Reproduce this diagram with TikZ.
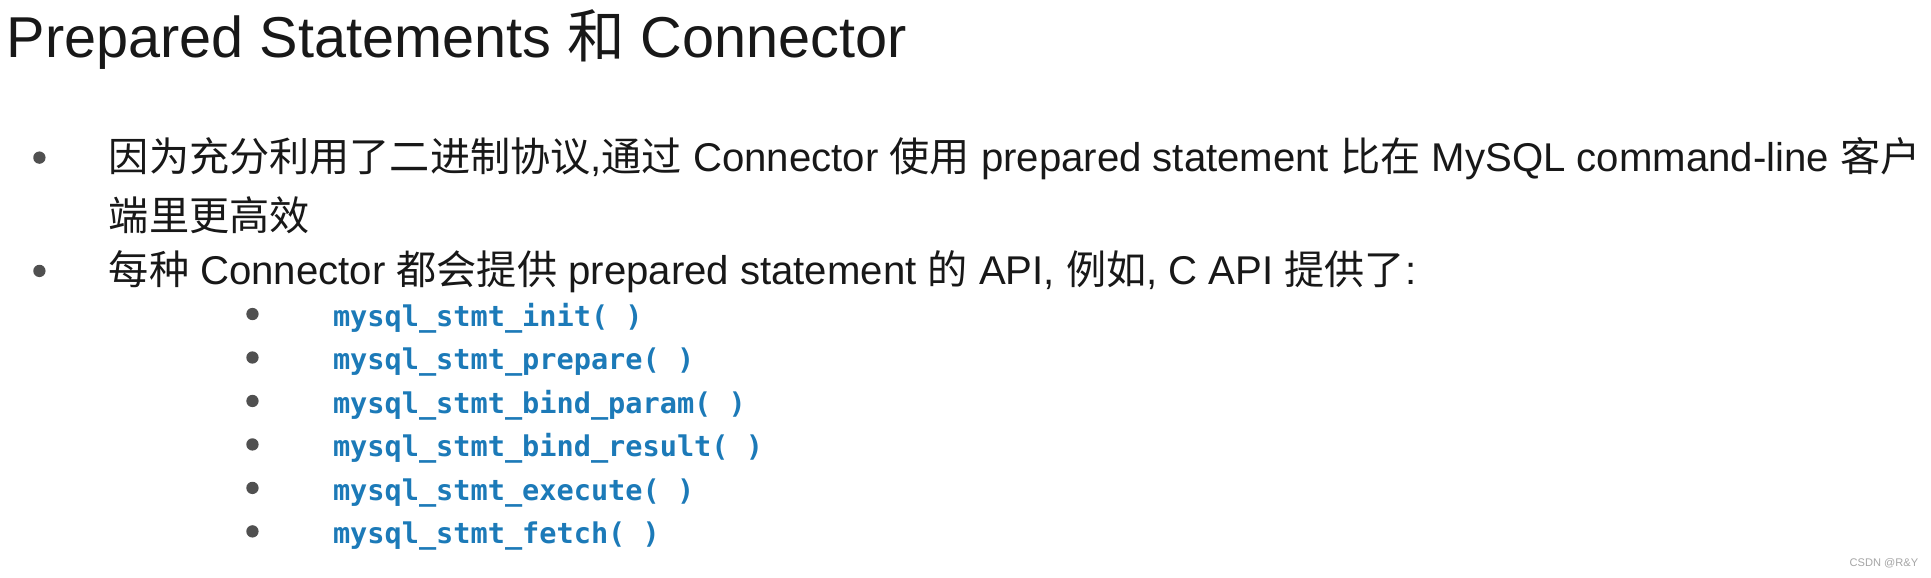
\documentclass[tikz,border=0pt]{standalone}
\usepackage{fontspec}
\setmainfont{Liberation Sans}
\newfontfamily\zhfont{Noto Sans CJK SC}
\newfontfamily\codefont{DejaVu Sans Mono}
\newcommand{\zh}[1]{{\zhfont #1}}
\definecolor{codeblue}{RGB}{28,122,184}
\definecolor{dotgray}{RGB}{80,80,80}
\definecolor{ink}{RGB}{24,24,24}
\begin{document}
\begin{tikzpicture}[x=0.5pt,y=-0.5pt,
  txt/.style={anchor=base west,inner sep=0pt,text=ink},
  dot/.style={circle,fill=dotgray,inner sep=0pt,minimum size=5pt},
  code/.style={anchor=base west,inner sep=0pt,text=codeblue,font=\codefont\bfseries\fontsize{11.6}{14}\selectfont}]
\useasboundingbox[fill=white] (0,0) rectangle (1568,469);
\node[txt,font=\fontsize{23.4}{28}\selectfont] (title) at (5,47) {Prepared Statements \zh{和} Connector};
\node[dot] (d1) at (32,128) {};
\node[txt,font=\fontsize{16.3}{24}\selectfont] (l1) at (88,139) {\zh{因为充分利用了二进制协议},\zh{通过} Connector \zh{使用} prepared statement \zh{比在} MySQL command-line \zh{客户}};
\node[txt,font=\fontsize{16.3}{24}\selectfont] (l1b) at (88,187) {\zh{端里更高效}};
\node[dot] (d2) at (32,220) {};
\node[txt,font=\fontsize{16.3}{24}\selectfont] (l2) at (88,231) {\zh{每种} Connector \zh{都会提供} prepared statement \zh{的} API, \zh{例如}, C API \zh{提供了}:};
\foreach \f [count=\i] in {init,prepare,bind\_param,bind\_result,execute,fetch}{
\node[dot] (s\i) at (205,{255+35.3*(\i-1)}) {};
\node[code] (c\i) at (270,{265+35.3*(\i-1)}) {mysql\_stmt\_\f( )};
}
\node[anchor=base east,inner sep=0pt,text=gray!70,font=\fontsize{4.5}{5}\selectfont] (mark) at (1558,460) {CSDN @R\&Y};
\end{tikzpicture}
\end{document}
